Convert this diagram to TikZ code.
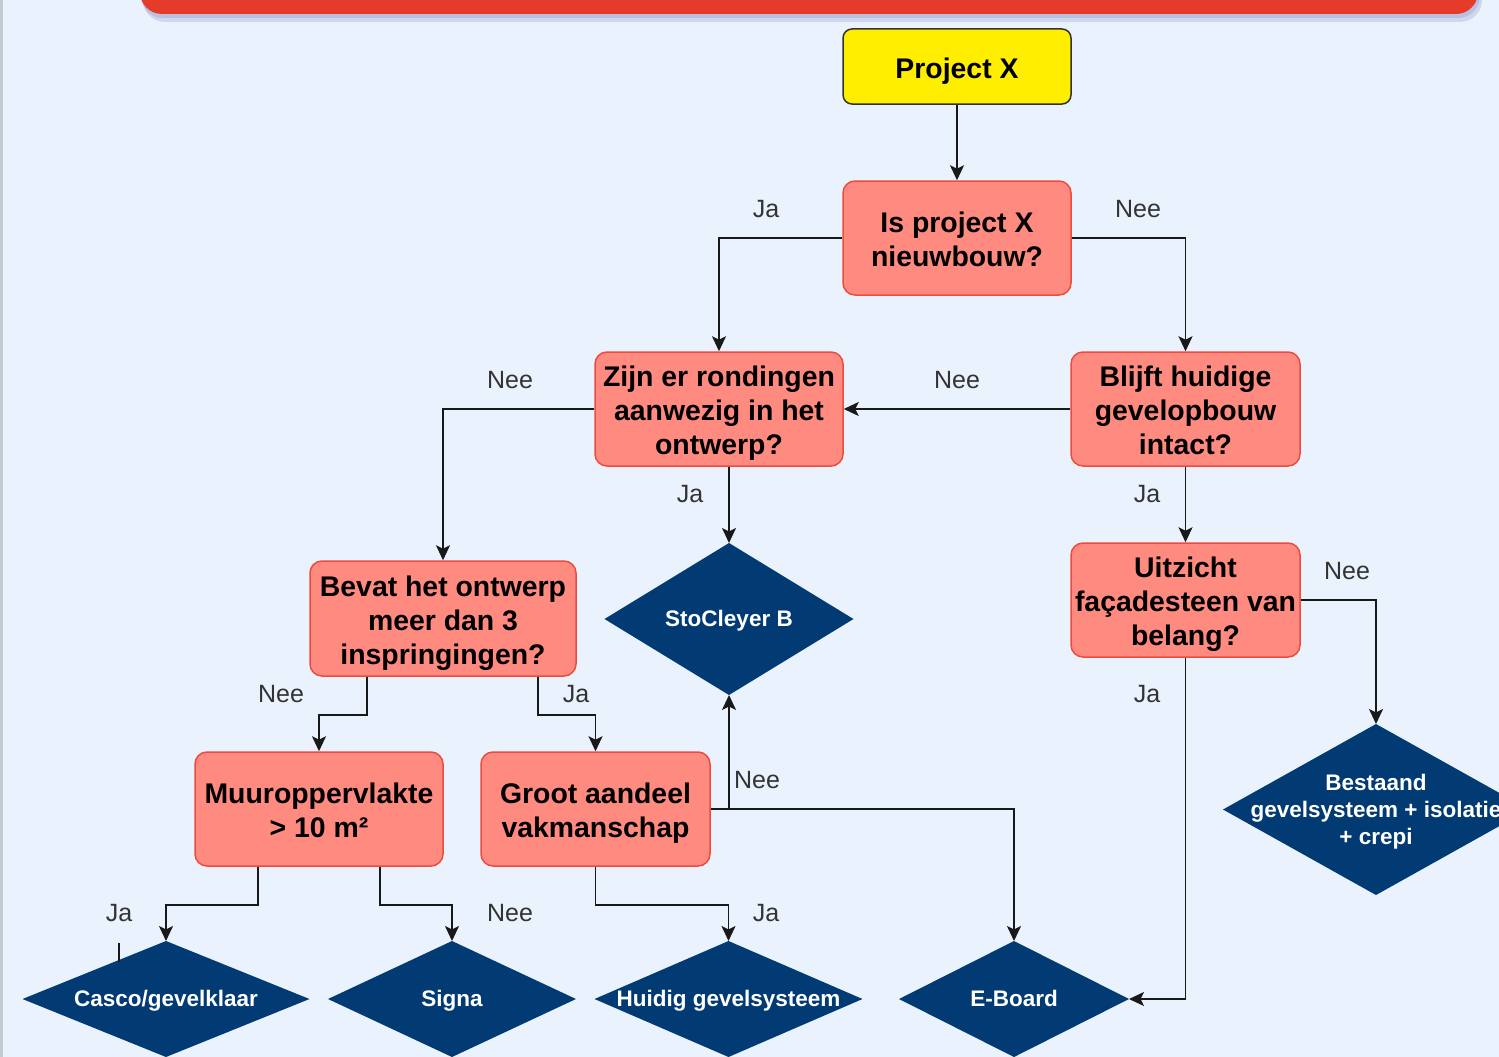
\documentclass[tikz,border=0pt]{standalone}
\usepackage{fontspec}
\setmainfont{Liberation Sans}
\usetikzlibrary{shapes.geometric,arrows.meta,calc}
\definecolor{bgc}{HTML}{EAF3FD}
\definecolor{banner}{HTML}{E53B2A}
\definecolor{salmon}{HTML}{FF8A80}
\definecolor{salmonline}{HTML}{EE4B3F}
\definecolor{navy}{HTML}{023B73}
\definecolor{yel}{HTML}{FFEE00}
\definecolor{lbl}{HTML}{333333}
\newcommand{\qf}{\rule[-7.15pt]{0pt}{38pt}}
\newcommand{\qs}{\rule[-7.15pt]{0pt}{34pt}}
\newcommand{\ds}{\rule[-5.7pt]{0pt}{27pt}}
\begin{document}
\begin{tikzpicture}[x=1pt,y=-1pt,
  qbox/.style={rectangle, rounded corners=12pt, fill=salmon, draw=salmonline, line width=1.5pt, minimum height=114pt, align=center, inner sep=0pt, font=\bfseries\fontsize{28.4}{34}\selectfont},
  startbox/.style={rectangle, rounded corners=9pt, fill=yel, draw=black!80, line width=1.5pt, minimum width=228pt, minimum height=75pt, inner sep=0pt, font=\bfseries\fontsize{28.4}{34}\selectfont},
  dia/.style={diamond, fill=navy, inner sep=0pt, outer sep=0pt},
  dtext/.style={text=white, align=center, font=\bfseries\fontsize{22.5}{27}\selectfont, inner sep=0pt},
  lab/.style={text=lbl, font=\fontsize{25}{30}\selectfont, inner sep=0pt},
  conn/.style={draw=black!90, line width=1.9pt, -{Stealth[length=15pt,width=14pt,inset=3.5pt]}},
  plainline/.style={draw=black!90, line width=1.6pt}
]
\useasboundingbox (0,0) rectangle (1499,1057);
\fill[bgc] (0,0) rectangle (1499,1057);
\fill[gray!35!bgc] (0,0) rectangle (2.5,1057);
% banner
\fill[gray!70!blue, opacity=0.18, rounded corners=22pt] (143,-40) rectangle (1482,22);
\fill[gray!70!blue, opacity=0.18, rounded corners=22pt] (141,-40) rectangle (1480,18);
\fill[banner, rounded corners=22pt] (140,-40) rectangle (1478,14);

% nodes
\node[startbox] (px) at (957,66.5) {\qf Project X};
\node[qbox, minimum width=228pt] (isp) at (957,238) {\qf Is project X\\\qs nieuwbouw?};
\node[qbox, minimum width=248pt] (zijn) at (719,409) {\qf Zijn er rondingen\\\qs aanwezig in het\\\qs ontwerp?};
\node[qbox, minimum width=229pt] (blijft) at (1185.5,409) {\qf Blijft huidige\\\qs gevelopbouw\\\qs intact?};
\node[qbox, minimum width=229pt] (uitz) at (1185.5,600) {\qf Uitzicht\\\qs façadesteen van\\\qs belang?};
\node[qbox, minimum width=266pt, minimum height=115pt] (bevat) at (443,618.5) {\qf Bevat het ontwerp\\\qs meer dan 3\\\qs inspringingen?};
\node[qbox, minimum width=248pt] (muur) at (319,809) {\qf Muuroppervlakte\\\qs > 10 m²};
\node[qbox, minimum width=229pt] (groot) at (595.5,809) {\qf Groot aandeel\\\qs vakmanschap};

\node[dia, minimum width=249pt, minimum height=152pt] (sto) at (729,619) {};
\node[dtext] (stot) at (sto) {\ds StoCleyer B};
\node[dia, minimum width=306pt, minimum height=171pt] (best) at (1376,809.5) {};
\node[dtext] (bestt) at (best) {\ds Bestaand\\\ds gevelsysteem + isolatie\\\ds + crepi};
\node[dia, minimum width=287pt, minimum height=116pt] (casco) at (166,999) {};
\node[dtext] (cascot) at (casco) {\ds Casco/gevelklaar};
\node[dia, minimum width=248pt, minimum height=116pt] (signa) at (452,999) {};
\node[dtext] (signat) at (signa) {\ds Signa};
\node[dia, minimum width=268pt, minimum height=116pt] (huid) at (728.5,999) {};
\node[dtext] (huidt) at (huid) {\ds Huidig gevelsysteem};
\node[dia, minimum width=230pt, minimum height=116pt] (eb) at (1014,999) {};
\node[dtext] (ebt) at (eb) {\ds E-Board};

% connectors
\draw[conn] (px) -- (isp);
\draw[conn] (isp.west) -| (zijn.north);
\draw[conn] (isp.east) -| (blijft.north);
\draw[conn] (blijft.west) -- (zijn.east);
\draw[conn] (zijn.west) -| (bevat.north);
\draw[conn] (zijn.south -| sto.north) -- (sto.north);
\draw[conn] (blijft.south) -- (uitz.north);
\draw[conn] (uitz.east) -| (best.north);
\draw[conn] (uitz.south) |- (eb.east);
\draw[conn] ([xshift=-76pt]bevat.south) -- ++(0,38) -| (muur.north);
\draw[conn] ([xshift=95pt]bevat.south) -- ++(0,38) -| (groot.north);
\draw[conn] (groot.east) -| (sto.south);
\draw[conn] (groot.east) -| (eb.north);
\draw[conn] ([xshift=-61pt]muur.south) -- ++(0,38) -| (casco.north);
\draw[conn] ([xshift=61pt]muur.south) -- ++(0,38) -| (signa.north);
\draw[conn] (groot.south) -- ++(0,38) -| (huid.north);
\coordinate (s1) at (119,943);
\coordinate (s2) at (119,962);
\draw[plainline] (s1) -- (s2);

% labels
\node[lab] (l1) at (766,209) {Ja};
\node[lab] (l2) at (1138,209) {Nee};
\node[lab] (l3) at (510,380) {Nee};
\node[lab] (l4) at (957,380) {Nee};
\node[lab] (l5) at (690,494) {Ja};
\node[lab] (l6) at (1147,494) {Ja};
\node[lab] (l7) at (1347,571) {Nee};
\node[lab] (l8) at (281,694) {Nee};
\node[lab] (l9) at (576,694) {Ja};
\node[lab] (l10) at (1147,694) {Ja};
\node[lab] (l11) at (757,780) {Nee};
\node[lab] (l12) at (119,913) {Ja};
\node[lab] (l13) at (510,913) {Nee};
\node[lab] (l14) at (766,913) {Ja};
\end{tikzpicture}
\end{document}
